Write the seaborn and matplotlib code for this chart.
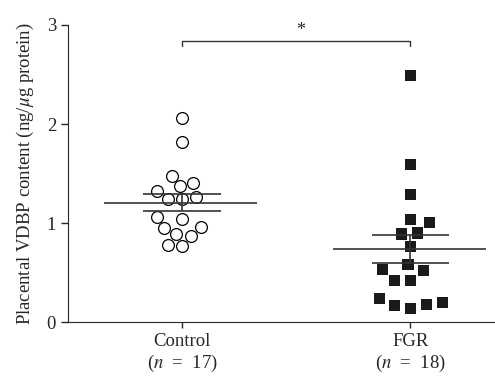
import numpy as np
import pandas as pd
import matplotlib
matplotlib.use("Agg")
import matplotlib.pyplot as plt
import seaborn as sns

# Values (ng/ug protein)
control = [2.06, 1.82, 1.48, 1.40, 1.37, 1.32, 1.26, 1.24, 1.24, 1.06, 1.04,
           0.96, 0.95, 0.89, 0.87, 0.78, 0.77]
fgr = [2.49, 1.59, 1.29, 1.04, 1.01, 0.90, 0.89, 0.76, 0.58, 0.53, 0.52,
       0.42, 0.42, 0.24, 0.20, 0.18, 0.17, 0.14]
groups = ["Control", "FGR"]
tick_labels = ["Control\n($n$  =  17)", "FGR\n($n$  =  18)"]

df = pd.DataFrame({
    "group": ["Control"] * len(control) + ["FGR"] * len(fgr),
    "value": control + fgr,
})

sns.set_style("ticks")
plt.rcParams["font.family"] = ["Liberation Serif", "DejaVu Serif"]
plt.rcParams["mathtext.fontset"] = "stix"

fig = plt.figure(figsize=(4.95, 3.84), dpi=100)
ax = fig.add_axes([0.137, 0.161, 0.863, 0.774])

sns.swarmplot(data=df[df.group == "Control"], x="group", y="value", order=groups,
              marker="o", color="white", edgecolor="black", linewidth=0.9,
              size=8.5, ax=ax)
# invisible thick edge only widens the swarm spacing for the squares
sns.swarmplot(data=df[df.group == "FGR"], x="group", y="value", order=groups,
              marker="s", color="#1a1a1a", edgecolor="none", linewidth=3.2,
              size=8, ax=ax)

# mean +/- SEM
for i, vals in enumerate([control, fgr]):
    v = np.array(vals)
    m = v.mean()
    sem = v.std(ddof=1) / np.sqrt(len(v))
    ax.hlines(m, i - 0.34, i + 0.33, color="#333333", lw=1.2, zorder=5)
    ax.hlines([m - sem, m + sem], i - 0.17, i + 0.17, color="#333333", lw=1.2, zorder=5)
    ax.vlines(i, m - sem, m + sem, color="#333333", lw=1.2, zorder=5)

# significance bracket
ax.plot([0, 0, 1, 1], [2.79, 2.84, 2.84, 2.79], color="#333333", lw=1)
ax.text(0.52, 2.86, "*", ha="center", va="bottom", fontsize=13)

ax.set_xlim(-0.5, 1.37)
ax.set_ylim(0, 3)
ax.set_yticks([0, 1, 2, 3])
ax.set_xticks([0, 1])
ax.set_xticklabels(tick_labels, fontsize=13.5, linespacing=1.2)
ax.tick_params(axis="y", labelsize=13.5, length=5, width=1)
ax.tick_params(axis="x", length=4, width=1)
ax.set_xlabel("")
ax.set_ylabel("Placental VDBP content (ng/$\\mu$g protein)", fontsize=13.5,
              labelpad=8)
sns.despine(ax=ax)

fig.savefig("out.png", dpi=100)
